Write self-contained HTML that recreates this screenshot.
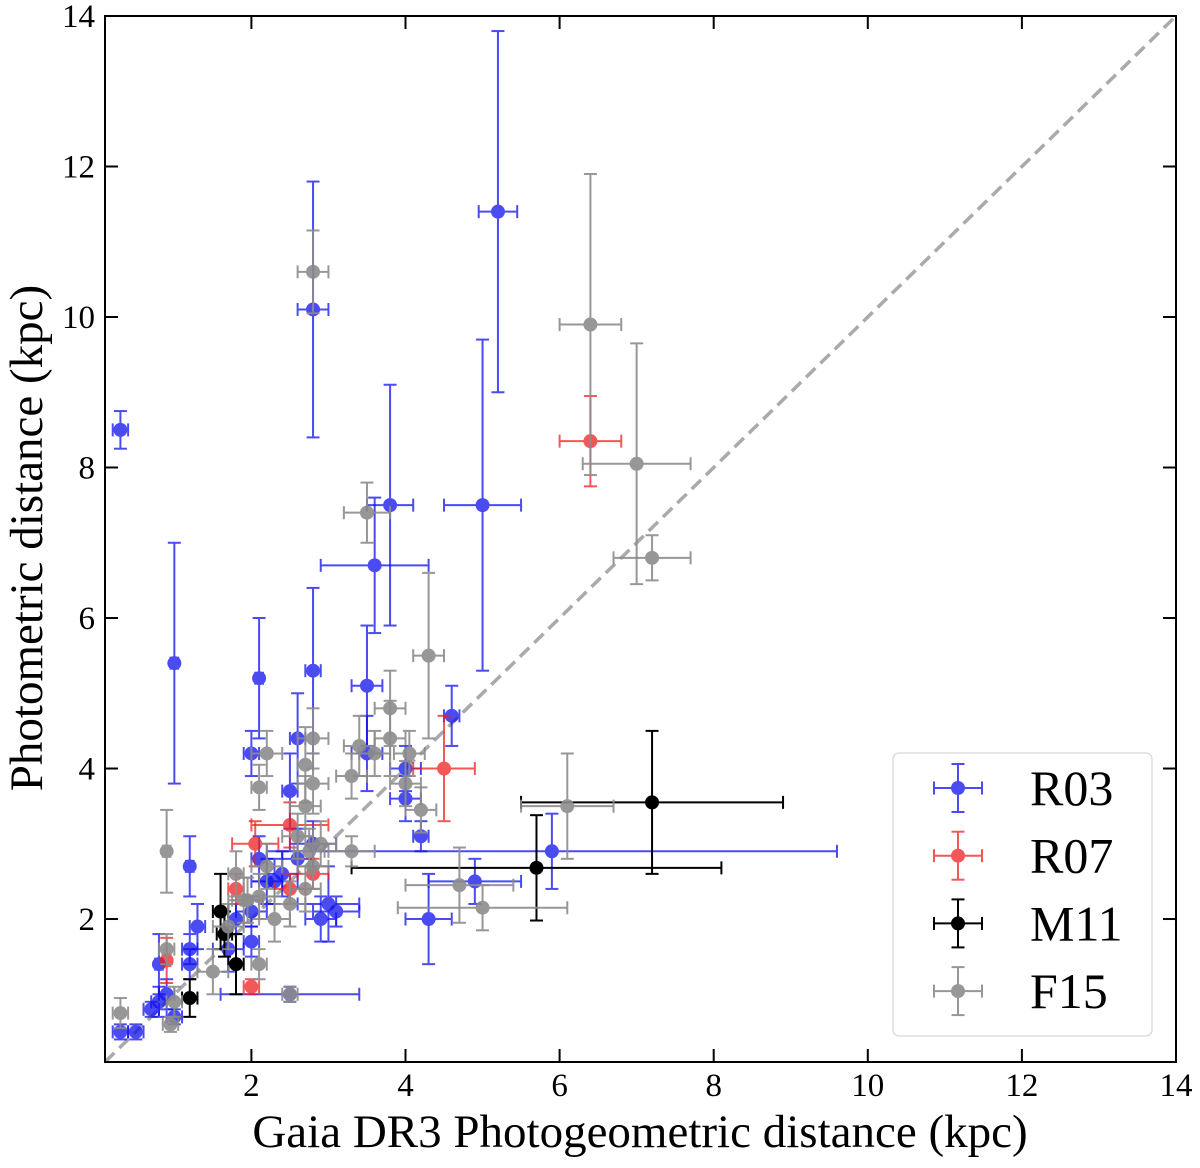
<!DOCTYPE html>
<html><head><meta charset="utf-8"><style>
html,body{margin:0;padding:0;background:#fff;}
svg text{font-family:"Liberation Serif",serif;fill:#000;}
</style></head><body>
<svg id="chart" width="1200" height="1163" viewBox="0 0 1200 1163" xmlns="http://www.w3.org/2000/svg">
<g id="plot"></g>
</svg>
<script>
// data arrays: [x, y, xerr, yerr]
const seriesNames = ["R03","R07","M11","F15"];
const seriesColors = ["#1010ee","#f02020","#000000","#8c8c8c"];
const r03 = [[0.3,8.5,0.1,0.25],[1.0,5.4,0.05,1.6],[2.8,10.1,0.2,1.7],[5.2,11.4,0.25,2.4],[3.8,7.5,0.3,1.6],[5.0,7.5,0.5,2.2],[3.6,6.7,0.7,0.9],[2.8,5.3,0.1,1.1],[2.1,5.2,0.05,0.8],[3.5,5.1,0.2,0.8],[4.6,4.7,0.1,0.4],[2.6,4.4,0.1,0.6],[2.0,4.2,0.1,0.3],[3.5,4.2,0.2,0.5],[4.0,4.0,0.2,0.3],[4.0,3.6,0.2,0.3],[4.2,3.1,0.1,0.2],[5.9,2.9,3.7,0.5],[4.9,2.5,0.6,0.3],[4.3,2.0,0.3,0.6],[2.5,3.7,0.1,0.5],[2.8,3.0,0.3,0.3],[3.1,2.1,0.3,0.2],[3.0,2.2,0.4,0.5],[2.5,1.0,0.9,0.1],[1.2,2.7,0.05,0.4],[1.3,1.9,0.1,0.3],[1.2,1.4,0.1,0.2],[0.8,1.4,0.05,0.4],[0.8,0.9,0.1,0.2],[0.9,1.0,0.1,0.2],[0.7,0.8,0.1,0.1],[1.0,0.7,0.1,0.1],[0.3,0.5,0.1,0.1],[0.5,0.5,0.1,0.1],[1.2,1.6,0.1,0.2],[1.7,1.6,0.2,0.3],[2.0,1.7,0.1,0.2],[2.1,2.8,0.1,0.3],[2.3,2.5,0.2,0.3],[2.4,2.6,0.2,0.3],[2.6,2.8,0.2,0.4],[1.8,2.0,0.1,0.2],[2.2,2.5,0.2,0.3],[2.0,2.1,0.2,0.2],[2.9,2.0,0.2,0.3]];
const r07 = [[6.4,8.35,0.4,0.6],[4.5,4.0,0.4,0.7],[2.05,3.0,0.3,0.3],[2.5,3.25,0.5,0.3],[2.5,2.4,0.2,0.2],[2.8,2.6,0.2,0.2],[0.9,1.45,0.05,0.3],[2.0,1.1,0.1,0.1],[1.8,2.4,0.1,0.2]];
const m11 = [[7.2,3.55,1.7,0.95],[5.7,2.68,2.4,0.7],[1.6,2.1,0.1,0.5],[1.8,1.4,0.1,0.4],[1.2,0.95,0.1,0.25],[1.65,1.8,0.1,0.3]];
const f15 = [[2.8,10.6,0.2,0.55],[6.4,9.9,0.4,2.0],[7.0,8.05,0.7,1.6],[7.2,6.8,0.5,0.3],[3.5,7.4,0.3,0.4],[4.3,5.5,0.2,1.1],[3.8,4.8,0.2,0.5],[2.8,4.4,0.2,0.4],[3.4,4.3,0.2,0.4],[3.6,4.2,0.2,0.3],[3.8,4.4,0.2,0.5],[4.05,4.2,0.2,0.3],[4.0,3.8,0.2,0.3],[4.2,3.45,0.2,0.3],[3.3,3.9,0.2,0.3],[3.3,2.9,0.3,0.2],[6.1,3.5,0.6,0.7],[4.7,2.45,0.7,0.5],[5.0,2.15,1.1,0.3],[2.7,4.05,0.1,0.5],[2.2,4.2,0.2,0.3],[2.1,3.75,0.1,0.3],[2.7,3.5,0.2,0.4],[2.8,3.8,0.2,0.4],[2.9,3.0,0.2,0.3],[2.6,3.1,0.2,0.3],[2.75,2.9,0.2,0.3],[2.8,2.7,0.2,0.3],[2.7,2.4,0.2,0.3],[2.5,2.2,0.2,0.3],[2.3,2.0,0.2,0.3],[2.1,2.3,0.2,0.3],[1.9,2.25,0.2,0.3],[1.8,2.6,0.1,0.3],[1.7,1.9,0.2,0.3],[1.5,1.3,0.2,0.3],[2.1,1.4,0.1,0.2],[0.9,2.9,0.05,0.55],[0.9,1.6,0.1,0.2],[0.3,0.75,0.1,0.2],[0.95,0.6,0.1,0.1],[1.0,0.9,0.1,0.2],[2.5,1.0,0.1,0.1],[1.95,2.25,0.2,0.3],[2.2,2.7,0.2,0.3]];
const xTicks = [2,4,6,8,10,12,14];
const yTicks = [2,4,6,8,10,12,14];

const L=105,R=1176,T=16,B=1062, xmin=0.1,xmax=14,ymin=0.1,ymax=14;
const sx=v=>L+(v-xmin)/(xmax-xmin)*(R-L);
const sy=v=>B-(v-ymin)/(ymax-ymin)*(B-T);
const NS="http://www.w3.org/2000/svg";
const g=document.getElementById('plot');
function mk(tag,attrs,parent){const e=document.createElementNS(NS,tag);for(const k in attrs)e.setAttribute(k,attrs[k]);(parent||g).appendChild(e);return e;}

const diag=mk('line',{x1:sx(0.1),y1:sy(0.1),x2:sx(14),y2:sy(14),stroke:'#aaa','stroke-width':3.5,'stroke-dasharray':'13,7'});



function drawPoint(parent,cx,cy,exl,exr,eyt,eyb,color,op){
  const grp=mk('g',{opacity:op},parent);
  const sw=2,cap=6.5;
  mk('line',{x1:exl,y1:cy,x2:exr,y2:cy,stroke:color,'stroke-width':sw},grp);
  mk('line',{x1:cx,y1:eyt,x2:cx,y2:eyb,stroke:color,'stroke-width':sw},grp);
  mk('line',{x1:exl,y1:cy-cap,x2:exl,y2:cy+cap,stroke:color,'stroke-width':sw},grp);
  mk('line',{x1:exr,y1:cy-cap,x2:exr,y2:cy+cap,stroke:color,'stroke-width':sw},grp);
  mk('line',{x1:cx-cap,y1:eyt,x2:cx+cap,y2:eyt,stroke:color,'stroke-width':sw},grp);
  mk('line',{x1:cx-cap,y1:eyb,x2:cx+cap,y2:eyb,stroke:color,'stroke-width':sw},grp);
  mk('circle',{cx:cx,cy:cy,r:7,fill:color},grp);
  return grp;
}
const allSeries=[r03,r07,m11,f15];
const opac=[0.75,0.75,1,0.9];
allSeries.forEach((data,si)=>{
  const sg=mk('g',{});
  
  
  data.forEach(d=>{
    const p=drawPoint(sg,sx(d[0]),sy(d[1]),sx(d[0]-d[2]),sx(d[0]+d[2]),sy(d[1]+d[3]),sy(d[1]-d[3]),seriesColors[si],opac[si]);
    
    
  });
});

const fr=mk('rect',{x:L,y:T,width:R-L,height:B-T,fill:'none',stroke:'#000','stroke-width':2});


xTicks.forEach(t=>{
  const x=sx(t);
  mk('line',{x1:x,y1:B,x2:x,y2:B-13,stroke:'#000','stroke-width':2});
  mk('line',{x1:x,y1:T,x2:x,y2:T+13,stroke:'#000','stroke-width':2});
  const tx=mk('text',{x:x,y:B+34,'text-anchor':'middle','font-size':33});
  tx.textContent=t;
  
  
});
yTicks.forEach(t=>{
  const y=sy(t);
  mk('line',{x1:L,y1:y,x2:L+13,y2:y,stroke:'#000','stroke-width':2});
  mk('line',{x1:R,y1:y,x2:R-13,y2:y,stroke:'#000','stroke-width':2});
  const ty=mk('text',{x:L-10,y:y+11,'text-anchor':'end','font-size':33});
  ty.textContent=t;
  
  
});
const xt=mk('text',{x:640,y:1147,'text-anchor':'middle','font-size':47});
xt.textContent='Gaia DR3 Photogeometric distance (kpc)';


const yt=mk('text',{x:0,y:0,'text-anchor':'middle','font-size':47,transform:'translate(42,538) rotate(-90)'});
yt.textContent='Photometric distance (kpc)';



const lg=mk('g',{});


mk('rect',{x:893,y:753,width:259,height:283,rx:6,fill:'#fff',stroke:'#ddd','stroke-width':1.5},lg);
seriesNames.forEach((n,i)=>{
  const y=788+i*67.7;
  const e=mk('g',{},lg);
  
  
  drawPoint(e,958,y,934,982,y-24,y+24,seriesColors[i],opac[i]);
  const t=mk('text',{x:1030,y:y+17,'font-size':50},e);
  t.textContent=n;
});
</script>
</body></html>
